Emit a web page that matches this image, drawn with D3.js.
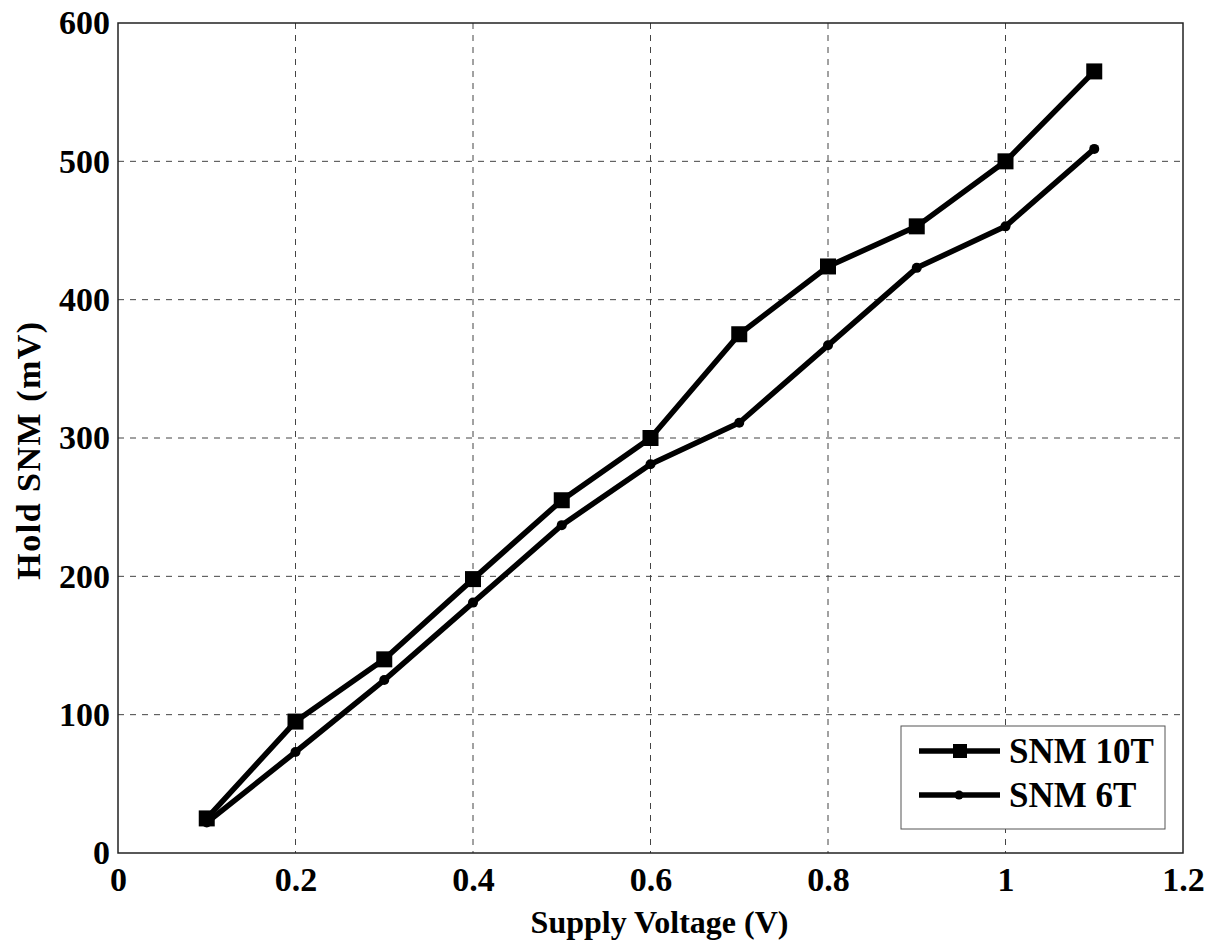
<!DOCTYPE html>
<html><head><meta charset="utf-8">
<script src="https://cdn.jsdelivr.net/npm/d3@7"></script>
<style>body{margin:0;background:#fff}</style>
</head><body>
<svg id="c" width="1213" height="943"></svg>
<script>
const voltages = [0.1,0.2,0.3,0.4,0.5,0.6,0.7,0.8,0.9,1.0,1.1];
const snm10T = [25,95,140,198,255,300,375,424,453,500,565];
const snm6T = [22,73,125,181,237,281,311,367,423,453,509];
const xTicks = [0,0.2,0.4,0.6,0.8,1,1.2];
const yTicks = [0,100,200,300,400,500,600];
const seriesNames = ["SNM 10T","SNM 6T"];

const svg = d3.select("#c");
const L=118, R=1183, T=23, B=853;
const x = d3.scaleLinear().domain([0,1.2]).range([L,R]);
const y = d3.scaleLinear().domain([0,600]).range([B,T]);
const font = "'Liberation Serif','Times New Roman',serif";

// grid
const g = svg.append("g");
g.selectAll(".vg").data(xTicks.slice(1,-1)).enter().append("line")
 .attr("x1",d=>x(d)).attr("x2",d=>x(d)).attr("y1",T).attr("y2",B)
 .attr("stroke","#444").attr("stroke-width",1).attr("stroke-dasharray","6,6");
g.selectAll(".hg").data(yTicks.slice(1,-1)).enter().append("line")
 .attr("y1",d=>y(d)).attr("y2",d=>y(d)).attr("x1",L).attr("x2",R)
 .attr("stroke","#444").attr("stroke-width",1).attr("stroke-dasharray","6,6");

// frame
svg.append("rect").attr("x",L).attr("y",T).attr("width",R-L).attr("height",B-T)
 .attr("fill","none").attr("stroke","#222").attr("stroke-width",1.5);

// axes tick labels
const xa = d3.axisBottom(x).tickValues(xTicks).tickFormat(d=>d3.format("")(d)).tickSize(0).tickPadding(14);
const xg = svg.append("g").attr("transform",`translate(0,${B})`).call(xa);
xg.select(".domain").remove();
xg.selectAll("text").attr("font-family",font).attr("font-weight","bold").attr("font-size",34).attr("fill","#000");
const ya = d3.axisLeft(y).tickValues(yTicks).tickSize(0).tickPadding(8);
const yg = svg.append("g").attr("transform",`translate(${L},0)`).call(ya);
yg.select(".domain").remove();
yg.selectAll("text").attr("font-family",font).attr("font-weight","bold").attr("font-size",34).attr("fill","#000");

// titles
svg.append("text").attr("x",(L+R)/2+9).attr("y",933).attr("text-anchor","middle")
 .attr("font-family",font).attr("font-weight","bold").attr("font-size",32).text("Supply Voltage (V)");
svg.append("text").attr("transform",`translate(40,${(T+B)/2+12}) rotate(-90)`).attr("text-anchor","middle")
 .attr("font-family",font).attr("font-weight","bold").attr("font-size",34).attr("letter-spacing",1.5).text("Hold SNM (mV)");

// lines
const line = d3.line().x((d,i)=>x(voltages[i])).y(d=>y(d));
[snm10T, snm6T].forEach(s=>{
  svg.append("path").datum(s).attr("d",line).attr("fill","none").attr("stroke","#000").attr("stroke-width",5.5).attr("stroke-linejoin","round");
});
svg.selectAll(".sq").data(snm10T).enter().append("rect")
 .attr("x",(d,i)=>x(voltages[i])-8).attr("y",d=>y(d)-8).attr("width",16).attr("height",16).attr("fill","#000");
svg.selectAll(".ci").data(snm6T).enter().append("circle")
 .attr("cx",(d,i)=>x(voltages[i])).attr("cy",d=>y(d)).attr("r",5).attr("fill","#000");

// legend
const lg = svg.append("g");
lg.append("rect").attr("x",901).attr("y",726).attr("width",264).attr("height",103)
 .attr("fill","#fff").attr("stroke","#555").attr("stroke-width",1);
const rows=[751,795];
rows.forEach((ry,i)=>{
  lg.append("line").attr("x1",919).attr("x2",1000).attr("y1",ry).attr("y2",ry).attr("stroke","#000").attr("stroke-width",5.5);
  if(i===0) lg.append("rect").attr("x",953).attr("y",ry-7).attr("width",14).attr("height",14).attr("fill","#000");
  else lg.append("circle").attr("cx",959).attr("cy",ry).attr("r",4.5).attr("fill","#000");
  lg.append("text").attr("x",1009).attr("y",ry+12).attr("font-family",font).attr("font-weight","bold").attr("font-size",35).text(seriesNames[i]);
});
</script>
</body></html>
